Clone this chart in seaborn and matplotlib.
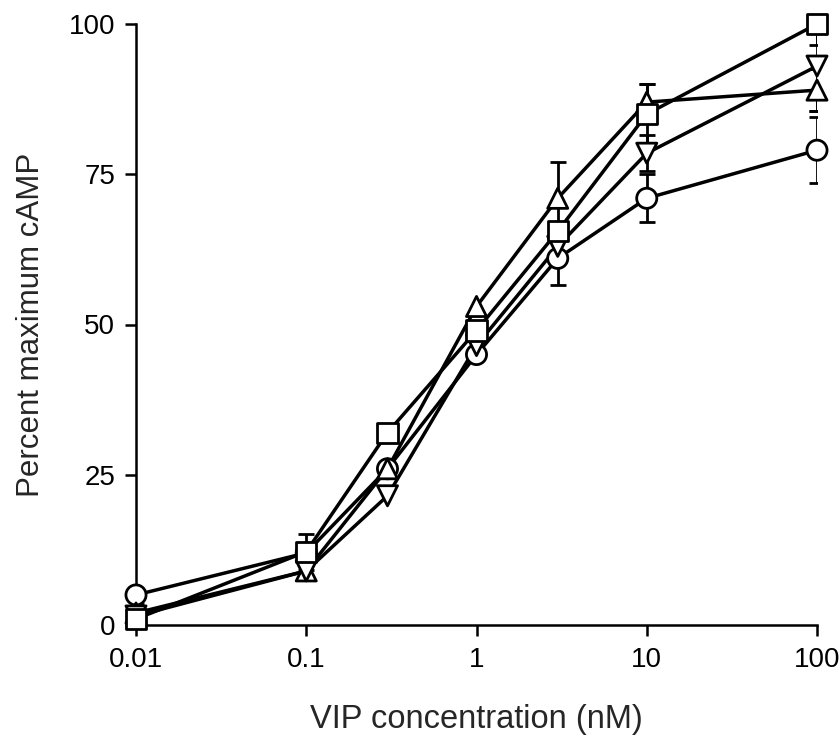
import numpy as np
import pandas as pd
import matplotlib
matplotlib.use("Agg")
import matplotlib.pyplot as plt
from matplotlib.ticker import FixedLocator, FixedFormatter, NullLocator
import seaborn as sns

# ---- data ----
conc = [0.01, 0.1, 0.3, 1, 3, 10, 100]
circle = [5, 12, 26, 45, 61, 71, 79]
square = [1, 12.2, 32, 49, 65.5, 85, 100]
tri_up = [2, 9, 26, 53, 71, 87, 89]
tri_down = [1.5, 9, 21.5, 46.5, 63, 78.5, 93]
err_circle = [0, 0, 0, 0, 4.5, 4, 5.5]
err_square = [0, 3, 0, 0, 1.5, 5, 3.5]
err_tri_up = [1.5, 0, 0, 0, 6, 3, 3.5]
err_tri_down = [0, 0, 0, 0, 0, 3, 7.5]
xticks = [0.01, 0.1, 1, 10, 100]
xtick_labels = ["0.01", "0.1", "1", "10", "100"]
yticks = [0, 25, 50, 75, 100]
xlabel = "VIP concentration (nM)"
ylabel = "Percent maximum cAMP"

series = {
    "circle": (circle, err_circle, "o"),
    "tri_up": (tri_up, err_tri_up, "^"),
    "tri_down": (tri_down, err_tri_down, "v"),
    "square": (square, err_square, "s"),
}
order = list(series.keys())

rows = []
for name, (vals, errs, mk) in series.items():
    for c, v, e in zip(conc, vals, errs):
        rows.append({"conc": c, "value": v, "err": e, "series": name})
df = pd.DataFrame(rows)

sns.set_style("ticks")
plt.rcParams["font.family"] = ["Liberation Sans", "DejaVu Sans"]

fig = plt.figure(figsize=(8.39, 7.5), dpi=100)
ax = fig.add_axes([136 / 839, 125 / 750, (817 - 136) / 839, (625 - 24) / 750])

# error bars (beneath everything)
for name in order:
    sub = df[(df["series"] == name) & (df["err"] > 0)]
    ax.errorbar(sub["conc"], sub["value"], yerr=sub["err"], fmt="none",
                ecolor="black", elinewidth=2, capsize=6, capthick=2, zorder=1)

# connecting lines
sns.lineplot(data=df, x="conc", y="value", units="series", estimator=None,
             color="black", linewidth=2.5, sort=True, ax=ax, zorder=2,
             legend=False)

# open markers
sns.scatterplot(data=df, x="conc", y="value", style="series", style_order=order,
                markers={k: series[k][2] for k in order}, color="white",
                edgecolor="black", linewidth=2.0, s=210, ax=ax, zorder=3,
                legend=False, clip_on=False)

ax.set_xscale("log")
ax.set_xlim(0.01, 100)
ax.set_ylim(0, 100)
ax.xaxis.set_major_locator(FixedLocator(xticks))
ax.xaxis.set_major_formatter(FixedFormatter(xtick_labels))
ax.xaxis.set_minor_locator(NullLocator())
ax.set_yticks(yticks)
ax.set_yticklabels([str(t) for t in yticks])

for s in ["top", "right"]:
    ax.spines[s].set_visible(False)
for s in ["left", "bottom"]:
    ax.spines[s].set_linewidth(1.8)
    ax.spines[s].set_color("black")

ax.tick_params(axis="both", which="major", length=8, width=1.8, color="black",
               labelsize=20, labelcolor="black")
ax.tick_params(axis="x", pad=8)
ax.tick_params(axis="y", pad=7)

ax.set_xlabel(xlabel, fontsize=23.5, labelpad=22)
ax.set_ylabel(ylabel, fontsize=22.5, labelpad=16)

fig.savefig("out.png", dpi=100, facecolor="white")
